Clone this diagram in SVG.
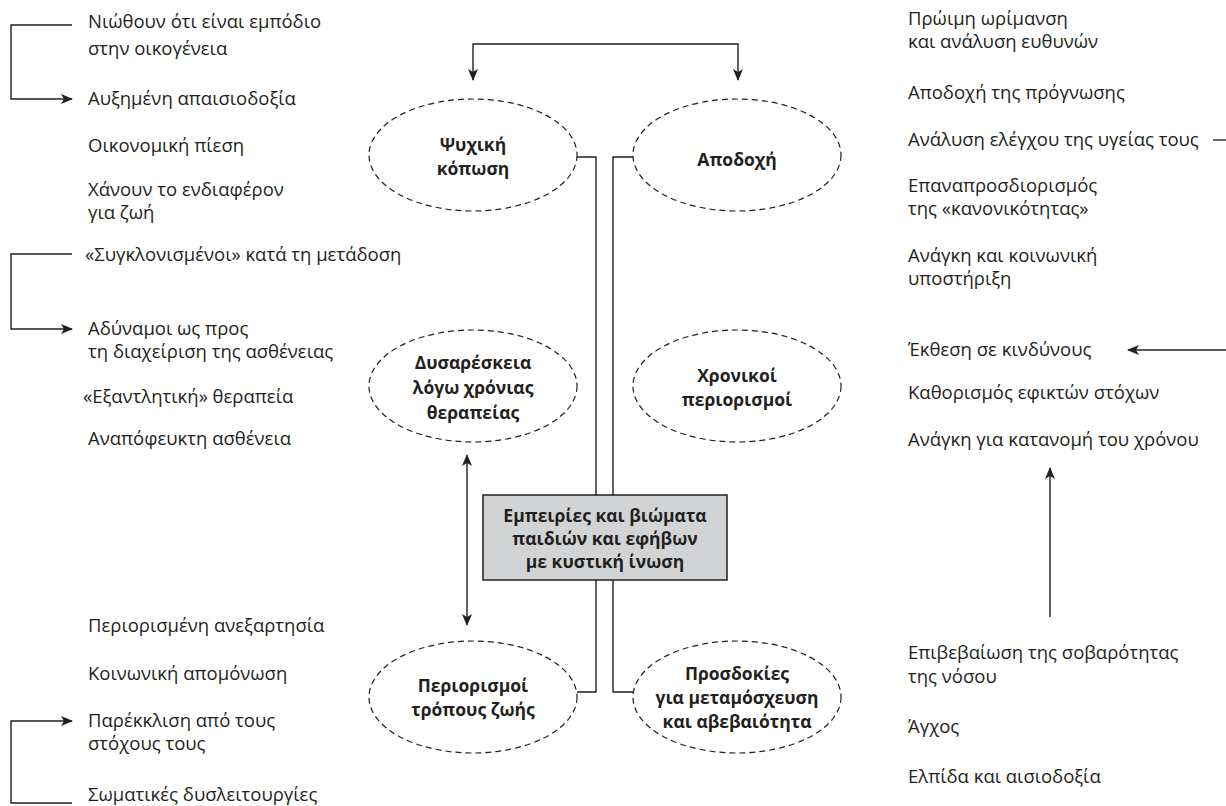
<svg xmlns="http://www.w3.org/2000/svg" width="1226" height="806" viewBox="0 0 1226 806">
<style>
  .t { font-family: "Open Sans", "Noto Sans", sans-serif; font-size: 18.5px; fill: #231f20; }
  .b { font-family: "Open Sans", "Noto Sans", sans-serif; font-size: 17.5px; font-weight: bold; fill: #231f20; text-anchor: middle; }
  .el { fill: none; stroke: #231f20; stroke-width: 1.2; stroke-dasharray: 6 4; }
  .ln { fill: none; stroke: #231f20; stroke-width: 1.4; }
</style>
<defs>
  <marker id="ah" viewBox="0 0 12 12" refX="11" refY="6" markerWidth="12" markerHeight="12" markerUnits="userSpaceOnUse" orient="auto-start-reverse">
    <path d="M0,1 L12,6 L0,11 L3,6 Z" fill="#231f20"/>
  </marker>
</defs>
<rect width="1226" height="806" fill="#ffffff"/>

<g id="connectors">
  <path class="ln" d="M473,80 V44 H738 V80" marker-start="url(#ah)" marker-end="url(#ah)"/>
  <path class="ln" d="M577,157 H596 V495"/>
  <path class="ln" d="M633,157 H613 V495"/>
  <path class="ln" d="M577,692 H596 V580"/>
  <path class="ln" d="M633,692 H613 V580"/>
  <path class="ln" d="M467,455 V625" marker-start="url(#ah)" marker-end="url(#ah)"/>
  <path class="ln" d="M72,25 H11 V99 H72" marker-end="url(#ah)"/>
  <path class="ln" d="M72,254 H11 V329 H72" marker-end="url(#ah)"/>
  <path class="ln" d="M72,803 H11 V721 H72" marker-end="url(#ah)"/>
  <path class="ln" d="M1213,140 H1226"/>
  <path class="ln" d="M1226,350 H1128" marker-end="url(#ah)"/>
  <path class="ln" d="M1050,617 V468" marker-end="url(#ah)"/>
</g>

<g id="center">
  <rect x="483" y="495" width="244" height="85" fill="#d1d3d4" stroke="#231f20" stroke-width="1.5"/>
  <text class="b" x="605" y="522">Εμπειρίες και βιώματα</text>
  <text class="b" x="605" y="545">παιδιών και εφήβων</text>
  <text class="b" x="605" y="568">με κυστική ίνωση</text>
</g>

<g id="n-psychiki">
  <ellipse class="el" cx="473" cy="155" rx="104" ry="56"/>
  <text class="b" x="473" y="151">Ψυχική</text>
  <text class="b" x="473" y="175">κόπωση</text>
</g>
<g id="n-apodochi">
  <ellipse class="el" cx="737" cy="155" rx="104" ry="56"/>
  <text class="b" x="737" y="166">Αποδοχή</text>
</g>
<g id="n-dysareskeia">
  <ellipse class="el" cx="473" cy="386" rx="104" ry="56"/>
  <text class="b" x="473" y="369">Δυσαρέσκεια</text>
  <text class="b" x="473" y="394">λόγω χρόνιας</text>
  <text class="b" x="473" y="419">θεραπείας</text>
</g>
<g id="n-chronikoi">
  <ellipse class="el" cx="737" cy="386" rx="104" ry="56"/>
  <text class="b" x="737" y="382">Χρονικοί</text>
  <text class="b" x="737" y="406">περιορισμοί</text>
</g>
<g id="n-periorismoi">
  <ellipse class="el" cx="473" cy="697" rx="104" ry="56"/>
  <text class="b" x="473" y="692">Περιορισμοί</text>
  <text class="b" x="473" y="716">τρόπους ζωής</text>
</g>
<g id="n-prosdokies">
  <ellipse class="el" cx="737" cy="697" rx="104" ry="56"/>
  <text class="b" x="737" y="680">Προσδοκίες</text>
  <text class="b" x="737" y="704">για μεταμόσχευση</text>
  <text class="b" x="737" y="728">και αβεβαιότητα</text>
</g>

<g id="left-items">
  <text class="t" x="88" y="28">Νιώθουν ότι είναι εμπόδιο</text>
  <text class="t" x="88" y="55">στην οικογένεια</text>
  <text class="t" x="88" y="105">Αυξημένη απαισιοδοξία</text>
  <text class="t" x="88" y="152">Οικονομική πίεση</text>
  <text class="t" x="88" y="196">Χάνουν το ενδιαφέρον</text>
  <text class="t" x="88" y="219">για ζωή</text>
  <text class="t" x="85" y="261">«Συγκλονισμένοι» κατά τη μετάδοση</text>
  <text class="t" x="88" y="335">Αδύναμοι ως προς</text>
  <text class="t" x="88" y="358">τη διαχείριση της ασθένειας</text>
  <text class="t" x="83" y="403">«Εξαντλητική» θεραπεία</text>
  <text class="t" x="88" y="445">Αναπόφευκτη ασθένεια</text>
  <text class="t" x="88" y="632">Περιορισμένη ανεξαρτησία</text>
  <text class="t" x="88" y="680">Κοινωνική απομόνωση</text>
  <text class="t" x="88" y="727">Παρέκκλιση από τους</text>
  <text class="t" x="88" y="750">στόχους τους</text>
  <text class="t" x="88" y="801">Σωματικές δυσλειτουργίες</text>
</g>

<g id="right-items">
  <text class="t" x="908" y="25">Πρώιμη ωρίμανση</text>
  <text class="t" x="908" y="48">και ανάλυση ευθυνών</text>
  <text class="t" x="908" y="99">Αποδοχή της πρόγνωσης</text>
  <text class="t" x="908" y="146">Ανάλυση ελέγχου της υγείας τους</text>
  <text class="t" x="908" y="192">Επαναπροσδιορισμός</text>
  <text class="t" x="908" y="215">της «κανονικότητας»</text>
  <text class="t" x="908" y="262">Ανάγκη και κοινωνική</text>
  <text class="t" x="908" y="285">υποστήριξη</text>
  <text class="t" x="908" y="356">Έκθεση σε κινδύνους</text>
  <text class="t" x="908" y="399">Καθορισμός εφικτών στόχων</text>
  <text class="t" x="908" y="446">Ανάγκη για κατανομή του χρόνου</text>
  <text class="t" x="908" y="659">Επιβεβαίωση της σοβαρότητας</text>
  <text class="t" x="908" y="683">της νόσου</text>
  <text class="t" x="908" y="733">Άγχος</text>
  <text class="t" x="908" y="783">Ελπίδα και αισιοδοξία</text>
</g>
</svg>
